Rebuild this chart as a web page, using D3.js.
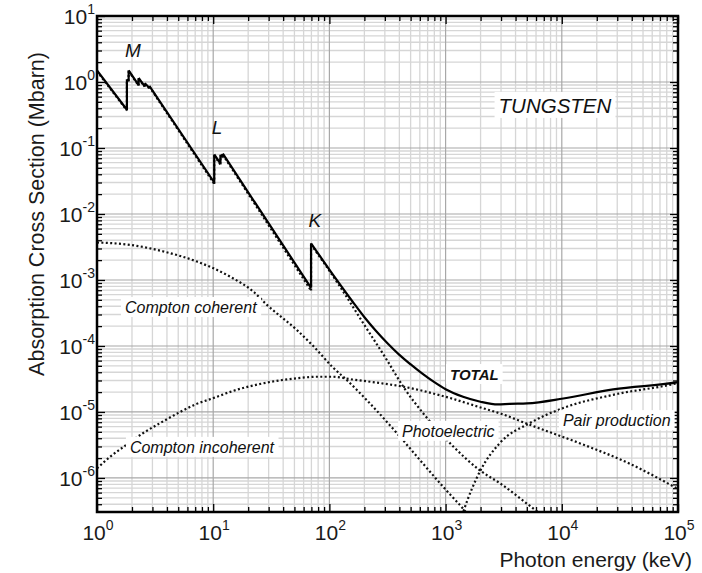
<!DOCTYPE html>
<html>
<head>
<meta charset="utf-8">
<script src="https://cdn.jsdelivr.net/npm/d3@7"></script>
<style>
body { margin: 0; background: #fff; }
svg { font-family: "Liberation Sans", Arial, Helvetica, sans-serif; }
</style>
</head>
<body>
<div id="chart"></div>
<script>
// tungsten cross sections, [energy keV, Mbarn]
var total = [[1,1.5],[1.809,0.38],[1.809,1.1],[1.872,1.04],[1.872,1.5],[2.281,0.9],[2.281,1.15],
  [2.575,0.86],[2.575,0.96],[2.82,0.82],[2.82,0.87],[10.207,0.03],[10.207,0.08],[11.544,0.058],
  [11.544,0.079],[12.1,0.074],[12.1,0.082],[69.525,7.6e-4],[69.525,3.6e-3],[115.6,1e-3],
  [158.5,4.68e-4],[199.5,2.75e-4],[251,1.7e-4],[316,1.1e-4],[398,7.41e-5],[501,5.25e-5],
  [631,3.8e-5],[794,2.85e-5],[1000,2.21e-5],[1413,1.7e-5],[1995,1.43e-5],[2818,1.3e-5],
  [3548,1.33e-5],[5012,1.35e-5],[10300,1.6e-5],[27700,2.2e-5],[97500,2.8e-5],[100000,2.82e-5]];
var photoelectric = [[1,1.45],[1.809,0.37],[1.809,1.07],[1.872,1.02],[1.872,1.46],[2.281,0.88],
  [2.281,1.12],[2.575,0.85],[2.575,0.94],[2.82,0.8],[2.82,0.85],[10.207,0.0285],[10.207,0.077],
  [11.544,0.056],[11.544,0.077],[12.1,0.071],[12.1,0.079],[69.525,6.9e-4],[69.525,3.45e-3],
  [123,8.0e-4],[196,2.2e-4],[311,6.2e-5],[433,2.4e-5],[643,9.5e-6],[1164,3.0e-6],
  [1977,1.3e-6],[2938,8.3e-7],[5875,3.3e-7],[8000,2.2e-7]];
var coherent = [[1,3.7e-3],[1.94,3.4e-3],[3.75,2.7e-3],[7.26,1.9e-3],[14,1.12e-3],[22.3,6.6e-4],
  [29,4.2e-4],[52.6,1.74e-4],[73.3,9.8e-5],[109,4.6e-5],[141,3.05e-5],[223,1.35e-5],
  [380,4.8e-6],[603,1.86e-6],[1021,6.4e-7],[1440,3.3e-7],[1800,2.0e-7]];
var incoherent = [[1,1.4e-6],[1.3,2.1e-6],[1.8,3.2e-6],[2.5,4.8e-6],[3.5,6.8e-6],[5.2,1.0e-5],
  [7,1.3e-5],[10,1.62e-5],[15,2.1e-5],[27,2.72e-5],[52,3.24e-5],[80,3.42e-5],[105,3.42e-5],
  [160,3.1e-5],[250,2.8e-5],[430,2.42e-5],[1000,1.7e-5],[2000,1.17e-5],[3000,9.4e-6],
  [5300,6.4e-6],[14000,3.4e-6],[38000,1.66e-6],[100000,6.8e-7]];
var pairProduction = [[1250,1.5e-7],[1440,3.3e-7],[1977,1.26e-6],[2938,3.4e-6],[5321,6.8e-6],
  [10300,1.15e-5],[27700,1.82e-5],[97500,2.72e-5],[100000,2.75e-5]];

var xDecades = [0,1,2,3,4,5];
var yDecades = [1,0,-1,-2,-3,-4,-5,-6];

// annotations [text, energy, value]
var edgeLabels = [['M',2.04,2.4],['L',10.8,0.163],['K',75,6.35e-3]];
var curveLabels = [['Compton coherent',1.74,3.16e-4],['Compton incoherent',1.92,2.4e-6],
  ['Photoelectric',422,4.2e-6],['Pair production',10230,6.1e-6]];

var W = 702, H = 573;
var margin = {top: 16, right: 24, bottom: 61, left: 97};
var width = W - margin.left - margin.right;
var height = H - margin.top - margin.bottom;

var svg = d3.select('#chart').append('svg')
  .attr('width', W).attr('height', H);
var g = svg.append('g')
  .attr('transform', 'translate(' + margin.left + ',' + margin.top + ')');

var x = d3.scaleLog().domain([1, 1e5]).range([0, width]);
var y = d3.scaleLog().domain([3.05e-7, 10]).range([height, 0]);

var minorX = [], minorY = [];
xDecades.slice(0, -1).forEach(function(p){
  for (var k = 2; k <= 9; k++) minorX.push(k * Math.pow(10, p));
});
for (var p = -7; p <= 0; p++) {
  for (var k = 2; k <= 9; k++) {
    var v = k * Math.pow(10, p);
    if (v > y.domain()[0] && v < 10) minorY.push(v);
  }
}

// grid
var grid = g.append('g');
grid.selectAll('.gx').data(minorX).enter().append('line')
  .attr('x1', x).attr('x2', x).attr('y1', 0).attr('y2', height)
  .attr('stroke', '#d6d6d6').attr('stroke-width', 1.3);
grid.selectAll('.gy').data(minorY).enter().append('line')
  .attr('y1', y).attr('y2', y).attr('x1', 0).attr('x2', width)
  .attr('stroke', '#d6d6d6').attr('stroke-width', 1.3);
grid.selectAll('.mx').data(xDecades).enter().append('line')
  .attr('x1', function(d){ return x(Math.pow(10, d)); })
  .attr('x2', function(d){ return x(Math.pow(10, d)); })
  .attr('y1', 0).attr('y2', height)
  .attr('stroke', '#a8a8a8').attr('stroke-width', 1.2);
grid.selectAll('.my').data(yDecades).enter().append('line')
  .attr('y1', function(d){ return y(Math.pow(10, d)); })
  .attr('y2', function(d){ return y(Math.pow(10, d)); })
  .attr('x1', 0).attr('x2', width)
  .attr('stroke', '#a8a8a8').attr('stroke-width', 1.2);

// inward ticks on all four sides
var majorX = xDecades.map(function(d){ return Math.pow(10, d); });
var majorY = yDecades.map(function(d){ return Math.pow(10, d); });
function tickAxis(axis, vals, size, tr) {
  var a = g.append('g').attr('transform', tr || null)
    .call(axis.tickValues(vals).tickSize(size).tickFormat(''));
  a.select('.domain').remove();
  a.selectAll('line').attr('stroke', '#000').attr('stroke-width', 1.3);
}
tickAxis(d3.axisBottom(x), minorX, -5, 'translate(0,' + height + ')');
tickAxis(d3.axisBottom(x), majorX, -8, 'translate(0,' + height + ')');
tickAxis(d3.axisTop(x), minorX, -5);
tickAxis(d3.axisTop(x), majorX, -8);
tickAxis(d3.axisLeft(y), minorY, -5);
tickAxis(d3.axisLeft(y), majorY, -8);
tickAxis(d3.axisRight(y), minorY, -5, 'translate(' + width + ',0)');
tickAxis(d3.axisRight(y), majorY, -8, 'translate(' + width + ',0)');

// curves: smooth between absorption edges, straight vertical jumps at edges
svg.append('clipPath').attr('id', 'clip').append('rect')
  .attr('width', width).attr('height', height);
var line = d3.line()
  .x(function(d){ return x(d[0]); })
  .y(function(d){ return y(d[1]); })
  .curve(d3.curveMonotoneX);
var curves = g.append('g').attr('clip-path', 'url(#clip)');

function pieces(data) {
  var out = [], cur = [data[0]];
  for (var i = 1; i < data.length; i++) {
    if (data[i][0] === data[i-1][0]) {
      out.push(cur);
      out.push([data[i-1], [data[i][0] * 1.0000001, data[i][1]]]);
      cur = [data[i]];
    } else {
      cur.push(data[i]);
    }
  }
  out.push(cur);
  return out;
}
function drawSeries(data, dashed) {
  var p = curves.append('path')
    .attr('d', pieces(data).map(function(s){ return line(s); }).join(''))
    .attr('fill', 'none').attr('stroke', dashed ? '#111' : '#000')
    .attr('stroke-width', 2.2).attr('stroke-linejoin', 'miter');
  if (dashed) p.attr('stroke-dasharray', '2,2.4');
}
drawSeries(coherent, true);
drawSeries(incoherent, true);
drawSeries(photoelectric, true);
drawSeries(pairProduction, true);
drawSeries(total, false);

// frame
g.append('rect').attr('width', width).attr('height', height)
  .attr('fill', 'none').attr('stroke', '#000').attr('stroke-width', 2.5);

// labels with white boxes
function boxedLabel(txt, e, v, size, weight, anchor) {
  var t = g.append('text')
    .attr('x', x(e)).attr('y', y(v))
    .attr('text-anchor', anchor || 'start')
    .attr('font-size', size).attr('font-style', 'italic')
    .attr('font-weight', weight || 'normal')
    .attr('fill', '#111').text(txt);
  var bb = t.node().getBBox();
  g.insert('rect', function(){ return t.node(); })
    .attr('x', bb.x - 4).attr('y', bb.y - 2)
    .attr('width', bb.width + 8).attr('height', bb.height + 3)
    .attr('fill', '#fff');
}
curveLabels.forEach(function(d){ boxedLabel(d[0], d[1], d[2], 16); });
boxedLabel('TUNGSTEN', 8730, 0.34, 20.5, 'normal', 'middle');
boxedLabel('TOTAL', 1092, 3.05e-5, 15, 'bold');

g.selectAll('.edge').data(edgeLabels).enter().append('text')
  .attr('x', function(d){ return x(d[1]); })
  .attr('y', function(d){ return y(d[2]); })
  .attr('text-anchor', 'middle').attr('font-size', 19)
  .attr('font-style', 'italic').attr('fill', '#111')
  .text(function(d){ return d[0]; });

// tick labels 10^n
yDecades.forEach(function(p){
  var t = g.append('text').attr('x', -2).attr('y', y(Math.pow(10, p)) + 8)
    .attr('text-anchor', 'end').attr('font-size', 21).attr('fill', '#1a1a1a');
  t.append('tspan').text('10');
  t.append('tspan').attr('dy', -10).attr('font-size', 14).text(p < 0 ? '-' + (-p) : p);
});
xDecades.forEach(function(p){
  var t = g.append('text').attr('x', x(Math.pow(10, p)) + 1).attr('y', height + 28)
    .attr('text-anchor', 'middle').attr('font-size', 21).attr('fill', '#1a1a1a');
  t.append('tspan').text('10');
  t.append('tspan').attr('dy', -10).attr('font-size', 14).text(p);
});

// axis titles
svg.append('text').attr('x', 692).attr('y', 567)
  .attr('text-anchor', 'end').attr('font-size', 21).attr('fill', '#1a1a1a')
  .text('Photon energy (keV)');
svg.append('text')
  .attr('transform', 'translate(44,' + 214 + ') rotate(-90)')
  .attr('text-anchor', 'middle').attr('font-size', 21.5).attr('fill', '#1a1a1a')
  .text('Absorption Cross Section (Mbarn)');
</script>
</body>
</html>
